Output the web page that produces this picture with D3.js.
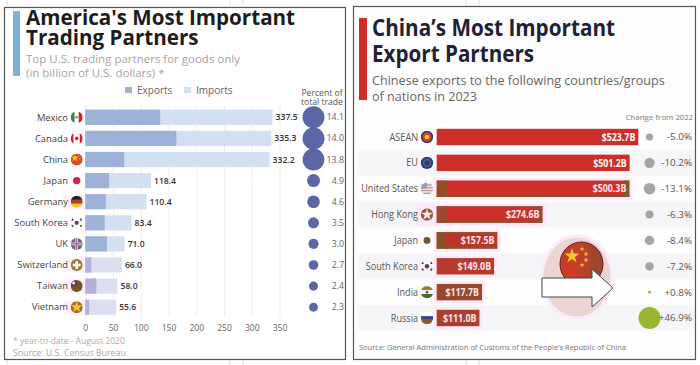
<!DOCTYPE html>
<html>
<head>
<meta charset="utf-8">
<script src="https://cdn.jsdelivr.net/npm/d3@7"></script>
<style>
  html, body { margin: 0; padding: 0; background: #fff; }
  svg { display: block; }
  text { font-family: "Open Sans", sans-serif; }
</style>
</head>
<body>
<div id="chart"></div>
<script>
// left panel data
const usPartners = ["Mexico", "Canada", "China", "Japan", "Germany", "South Korea", "UK", "Switzerland", "Taiwan", "Vietnam"];
const usTotals = [337.5, 335.3, 332.2, 118.4, 110.4, 83.4, 71.0, 66.0, 58.0, 55.6];
const usExports = [135, 164, 70, 43, 37, 35, 39, 11, 20, 7];
const usShares = [14.1, 14.0, 13.8, 4.9, 4.6, 3.5, 3.0, 2.7, 2.4, 2.3];
const usTicks = [0, 50, 100, 150, 200, 250, 300, 350];

// right panel data
const cnPartners = ["ASEAN", "EU", "United States", "Hong Kong", "Japan", "South Korea", "India", "Russia"];
const cnExports = [523.7, 501.2, 500.3, 274.6, 157.5, 149.0, 117.7, 111.0];
const cnChange = [-5.0, -10.2, -13.1, -6.3, -8.4, -7.2, 0.8, 46.9];

// row looks, the scan has colour damage on some rows
const usTinted = ["Switzerland", "Taiwan", "Vietnam"];
const usHalo = ["Germany", "Switzerland", "Taiwan", "Vietnam"];
const cnLook = {
  "United States": { fill: "#cc2f2a", edge: "#7d5a2a", bottom: true, patch: 11, end: 5, halo: true },
  "Hong Kong": { fill: "#cc3029", edge: "#8a5230", top: true, bottom: true, patch: 11, end: 5, halo: true },
  "Japan": { fill: "#bd3329", edge: "#7d5a2a", top: true, bottom: true, patch: 8, halo: true },
  "South Korea": { fill: "#b83a2c", edge: "#a8452c", halo: true },
  "India": { fill: "#98482d", edge: "#8a4c2c", halo: true },
  "Russia": { fill: "#a8412c", edge: "#8e4a2c", halo: true },
};

const svg = d3.select("#chart").append("svg").attr("width", 700).attr("height", 365);
let clipCount = 0;

function flag(g, r, name, panelName) {
  const id = "clip-" + clipCount++;
  g.append("clipPath").attr("id", id).append("circle").attr("r", r);
  const f = g.append("g").attr("clip-path", `url(#${id})`);
  const rect = (x, y, w, h, c) => f.append("rect").attr("x", x * r).attr("y", y * r).attr("width", w * r).attr("height", h * r).attr("fill", c);
  const dot = (x, y, s, c) => f.append("circle").attr("cx", x * r).attr("cy", y * r).attr("r", s * r).attr("fill", c);
  const star = (x, y, s, c) => f.append("path").attr("transform", `translate(${x * r},${y * r})`)
    .attr("d", d3.symbol(d3.symbolStar, s * r * s * r * 3)()).attr("fill", c);
  switch (name) {
    case "Mexico": rect(-1, -1, 0.67, 2, "#2e8b57"); rect(-0.33, -1, 0.66, 2, "#fff"); rect(0.33, -1, 0.67, 2, "#d6202e"); dot(0, 0, 0.2, "#9a7a3a"); break;
    case "Canada": rect(-1, -1, 0.5, 2, "#d6202e"); rect(-0.5, -1, 1, 2, "#fff"); rect(0.5, -1, 0.5, 2, "#d6202e"); dot(0, 0, 0.3, "#d6202e"); break;
    case "China": rect(-1, -1, 2, 2, "#dc4a26"); star(-0.3, -0.25, 0.4, "#f5c92e"); dot(0.3, -0.5, 0.1, "#f5c92e"); dot(0.5, -0.1, 0.1, "#f5c92e"); break;
    case "Japan":
      if (panelName === "cn") dot(0, 0, 0.55, "#6b5a2a");
      else dot(0, 0, 0.62, "#d81e50");
      break;
    case "Germany": rect(-1, -1, 2, 0.7, "#222"); rect(-1, -0.3, 2, 0.65, "#a8402e"); rect(-1, 0.35, 2, 0.65, "#f2c81e"); break;
    case "South Korea": dot(0, 0, 0.35, "#6a3a5a"); dot(-0.75, -0.55, 0.2, "#333"); dot(0.75, -0.55, 0.2, "#333"); dot(-0.75, 0.55, 0.2, "#333"); dot(0.75, 0.55, 0.2, "#333"); break;
    case "UK": rect(-1, -1, 2, 2, "#6a6590"); rect(-1, -0.22, 2, 0.44, "#f0e4ea"); rect(-0.22, -1, 0.44, 2, "#f0e4ea"); rect(-1, -0.08, 2, 0.16, "#a04060"); rect(-0.08, -1, 0.16, 2, "#a04060"); break;
    case "Switzerland": rect(-1, -1, 2, 2, "#a0763a"); rect(-0.65, -0.22, 1.3, 0.44, "#fff"); rect(-0.22, -0.65, 0.44, 1.3, "#fff"); break;
    case "Taiwan": rect(-1, -1, 2, 2, "#74561f"); rect(-1, -1, 1, 1, "#6a2a80"); dot(-0.5, -0.5, 0.25, "#eee"); break;
    case "Vietnam": rect(-1, -1, 2, 2, "#a86a22"); star(0, 0, 0.62, "#f5c92e"); break;
    case "ASEAN": rect(-1, -1, 2, 2, "#2a3a78"); dot(0, 0, 0.75, "#dc3a2a"); dot(0, 0, 0.38, "#f5c92e"); break;
    case "EU": rect(-1, -1, 2, 2, "#2a3a78"); f.append("circle").attr("r", 0.55 * r).attr("fill", "none").attr("stroke", "#55608a").attr("stroke-width", 1.5); break;
    case "United States": rect(-1, -1, 2, 2, "#eee"); [-0.7, -0.25, 0.2, 0.65].forEach(y => rect(-1, y, 2, 0.2, "#c88a90")); rect(-1, -1, 1, 1, "#9a9fba"); break;
    case "Hong Kong": rect(-1, -1, 2, 2, "#9a5a30"); star(0, 0, 0.62, "#fbeaf0"); break;
    case "India": rect(-1, -1, 2, 0.7, "#a07a3a"); rect(-1, -0.3, 2, 0.6, "#fff"); rect(-1, 0.3, 2, 0.7, "#4a6a2a"); dot(0, 0, 0.2, "#2a3a78"); break;
    case "Russia": rect(-1, -1, 2, 0.7, "#fff"); rect(-1, -0.3, 2, 0.6, "#3a3f90"); rect(-1, 0.3, 2, 0.7, "#8a5a30"); break;
  }
}

function drawUS() {
  const panel = svg.append("g");
  panel.append("rect").attr("x", 4.5).attr("y", 7.5).attr("width", 341).attr("height", 352)
    .attr("fill", "#fff").attr("stroke", "#555").attr("stroke-width", 1.2);
  panel.append("rect").attr("x", 13).attr("y", 11).attr("width", 7).attr("height", 65).attr("fill", "#7fb2d9");
  panel.selectAll(".title").data(["America's Most Important", "Trading Partners"]).join("text")
    .attr("x", 26).attr("y", (d, i) => 24.5 + i * 20.5)
    .attr("font-size", 20.6).attr("font-weight", 700).attr("fill", "#1d1d1d").text(d => d);
  panel.selectAll(".sub").data(["Top U.S. trading partners for goods only", "(in billion of U.S. dollars) *"]).join("text")
    .attr("x", 26).attr("y", (d, i) => 63 + i * 13.5)
    .attr("font-size", 11.5).attr("fill", "#ab9fa6").text(d => d);

  // legend
  panel.append("rect").attr("x", 125).attr("y", 87).attr("width", 7).attr("height", 6).attr("fill", "#9db2d6");
  panel.append("text").attr("x", 137).attr("y", 94).attr("font-size", 10).attr("fill", "#666").text("Exports");
  panel.append("rect").attr("x", 184).attr("y", 87).attr("width", 7).attr("height", 6).attr("fill", "#d3e0f1");
  panel.append("text").attr("x", 196).attr("y", 94).attr("font-size", 10).attr("fill", "#666").text("Imports");
  panel.selectAll(".ph").data(["Percent of", "total trade"]).join("text")
    .attr("x", 322).attr("y", (d, i) => 96 + i * 9).attr("text-anchor", "middle")
    .attr("font-size", 8.6).attr("fill", "#555").text(d => d);

  const x = d3.scaleLinear().domain([0, 350]).range([85.3, 279.5]);
  const y = d3.scaleBand().domain(usPartners).range([106.75, 317.75]).paddingInner(0.28).paddingOuter(0.14);
  const r = d3.scaleSqrt().domain([0, 14.1]).range([0, 11]);

  panel.selectAll(".halo").data(usHalo).join("rect")
    .attr("x", 63).attr("width", 24).attr("y", d => y(d) + 1).attr("height", y.bandwidth() - 1).attr("fill", "#fdf0f8");

  const axis = d3.axisBottom(x).tickValues(usTicks).tickSize(-212).tickFormat(d3.format("d"));
  const ax = panel.append("g").attr("transform", "translate(0,317)").call(axis);
  ax.select(".domain").remove();
  ax.selectAll(".tick line").attr("stroke", "#ededed");
  ax.selectAll(".tick text").attr("font-size", 8.6).attr("fill", "#666").attr("y", 8).attr("dy", "0.71em")
    .style("font-family", '"Open Sans", sans-serif');

  const rows = panel.selectAll(".row").data(usPartners).join("g");
  rows.append("rect").attr("x", x(0)).attr("y", d => y(d)).attr("height", y.bandwidth())
    .attr("width", (d, i) => x(usTotals[i]) - x(0)).attr("fill", d => usTinted.includes(d) ? "#dcdff2" : "#d3e0f1");
  rows.append("rect").attr("x", x(0)).attr("y", d => y(d)).attr("height", y.bandwidth())
    .attr("width", (d, i) => x(usExports[i]) - x(0)).attr("fill", d => usTinted.includes(d) ? "#b6aedb" : "#9db2d6");
  rows.append("text").attr("x", 68).attr("y", d => y(d) + y.bandwidth() / 2).attr("dy", "0.35em")
    .attr("text-anchor", "end").attr("font-size", 9.4).attr("fill", "#444").text(d => d);
  rows.append("g").attr("transform", d => `translate(76.7,${y(d) + y.bandwidth() / 2})`).each(function (d) { flag(d3.select(this), 6, d, "us"); });
  rows.append("text").attr("x", (d, i) => x(usTotals[i]) + 3).attr("y", d => y(d) + y.bandwidth() / 2).attr("dy", "0.35em")
    .attr("font-size", 8.6).attr("font-weight", 600).attr("fill", "#333").text((d, i) => usTotals[i].toFixed(1));
  rows.append("circle").attr("cx", 313.5).attr("cy", d => y(d) + y.bandwidth() / 2)
    .attr("r", (d, i) => r(usShares[i])).attr("fill", "#5b66a6");
  rows.append("text").attr("x", 344).attr("y", d => y(d) + y.bandwidth() / 2).attr("dy", "0.35em")
    .attr("text-anchor", "end").attr("font-size", 8.8).attr("fill", "#666").text((d, i) => usShares[i].toFixed(1));

  panel.append("text").attr("x", 13).attr("y", 343.5).attr("font-size", 8.5).attr("fill", "#b5a8ae").text("* year-to-date - August 2020");
  panel.append("text").attr("x", 13).attr("y", 355.5).attr("font-size", 8.8).attr("fill", "#a8a8a8").text("Source: U.S. Census Bureau");
}

function drawChina() {
  const panel = svg.append("g");
  panel.append("rect").attr("x", 353.5).attr("y", 6.5).attr("width", 342).attr("height", 353)
    .attr("fill", "#fdfdfd").attr("stroke", "#555").attr("stroke-width", 1.2);
  panel.append("rect").attr("x", 359).attr("y", 18).attr("width", 8).attr("height", 82).attr("fill", "#cf2c27");
  const titleLens = [243, 162];
  panel.selectAll(".title").data(["China\u2019s Most Important", "Export Partners"]).join("text")
    .attr("x", 372).attr("y", (d, i) => 35.5 + i * 26)
    .attr("font-size", 23.5).attr("font-weight", 700).attr("fill", "#1e2233")
    .attr("textLength", (d, i) => titleLens[i]).attr("lengthAdjust", "spacingAndGlyphs").text(d => d);
  panel.selectAll(".sub").data(["Chinese exports to the following countries/groups", "of nations in 2023"]).join("text")
    .attr("x", 372).attr("y", (d, i) => 85 + i * 16)
    .attr("font-size", 12.6).attr("fill", "#666").text(d => d);
  panel.append("text").attr("x", 693).attr("y", 120).attr("text-anchor", "end")
    .attr("font-size", 7.7).attr("font-weight", 600).attr("fill", "#999").text("Change from 2022");

  const x = d3.scaleLinear().domain([0, 523.7]).range([436.7, 638.3]);
  const y = d3.scalePoint().domain(cnPartners).range([137, 318]);
  const r = d3.scaleSqrt().domain([0, 46.9]).range([0, 11]);
  const barH = 16.4;

  const rows = panel.selectAll(".row").data(cnPartners).join("g");
  rows.filter((d, i) => i % 2 === 1).append("rect").attr("x", 358).attr("width", 336)
    .attr("y", d => y(d) - 12.9).attr("height", 25.8).attr("fill", "#f6f6f8");
  rows.filter(d => cnLook[d]).append("rect")
    .attr("x", d => x(0) - (d === "Hong Kong" ? 20 : 3)).attr("y", d => y(d) - barH / 2 - 2.5)
    .attr("width", d => x(cnExports[cnPartners.indexOf(d)]) - x(0) + (d === "Hong Kong" ? 26 : 6)).attr("height", barH + 5.5)
    .attr("fill", "#ffe9fb");
  rows.append("rect").attr("x", x(0)).attr("y", d => y(d) - barH / 2).attr("height", barH)
    .attr("width", (d, i) => x(cnExports[i]) - x(0)).attr("fill", d => cnLook[d] ? cnLook[d].fill : "#cc2f2a");

  // brown edges and patches on the damaged bars
  rows.each(function (d, i) {
    const look = cnLook[d];
    if (!look) return;
    const g = d3.select(this), w = x(cnExports[i]) - x(0);
    const patch = (px, py, pw, ph) => g.append("rect").attr("x", px).attr("y", py).attr("width", pw).attr("height", ph).attr("fill", look.edge);
    if (look.top) patch(x(0), y(d) - barH / 2, w, 1.6);
    if (look.bottom) patch(x(0), y(d) + barH / 2 - 2, w, 2);
    if (look.patch) patch(x(0), y(d) - barH / 2, look.patch, barH).attr("opacity", 0.75);
    if (look.end) patch(x(0) + w - look.end, y(d) - barH / 2, look.end, barH);
  });

  // labels are condensed in the reference, so squeeze a larger size to its width
  rows.append("text").attr("x", (d, i) => x(cnExports[i]) - 3).attr("y", d => y(d)).attr("dy", "0.35em")
    .attr("text-anchor", "end").attr("font-size", 10.6).attr("font-weight", 700).attr("fill", d => cnLook[d] ? "#ffe6ee" : "#fff")
    .attr("textLength", 33.5).attr("lengthAdjust", "spacingAndGlyphs")
    .text((d, i) => `$${cnExports[i].toFixed(1)}B`);
  rows.append("text").attr("x", 418).attr("y", d => y(d)).attr("dy", "0.35em")
    .attr("text-anchor", "end").attr("font-size", 10).attr("fill", "#555").text(d => d)
    .each(function () { d3.select(this).attr("textLength", this.getComputedTextLength() * 0.91).attr("lengthAdjust", "spacingAndGlyphs"); });
  rows.append("g").attr("transform", d => `translate(427,${y(d)})`).each(function (d) { flag(d3.select(this), 6.2, d, "cn"); });
  rows.append("circle").attr("cx", 649.5).attr("cy", d => y(d))
    .attr("r", (d, i) => r(Math.abs(cnChange[i]))).attr("fill", (d, i) => cnChange[i] < 0 ? "#a5a5a5" : "#9ab52e");
  rows.append("text").attr("x", 692).attr("y", d => y(d)).attr("dy", "0.35em").attr("text-anchor", "end")
    .attr("font-size", 9.8).attr("fill", "#555")
    .text((d, i) => (cnChange[i] > 0 ? "+" : "") + cnChange[i].toFixed(1) + "%");

  // flag and arrow badge
  const grad = svg.append("defs").append("linearGradient").attr("id", "badge");
  grad.append("stop").attr("offset", "35%").attr("stop-color", "#cc3a2a");
  grad.append("stop").attr("offset", "90%").attr("stop-color", "#98482c");
  panel.append("ellipse").attr("cx", 577).attr("cy", 277).attr("rx", 35).attr("ry", 41)
    .attr("fill", "#ecd6d2").attr("stroke", "#fdeafa").attr("stroke-width", 3);
  panel.append("ellipse").attr("cx", 581.5).attr("cy", 264).attr("rx", 21.5).attr("ry", 22).attr("fill", "url(#badge)").attr("stroke", "#5a1c22").attr("stroke-width", 1);
  const star = d3.symbol(d3.symbolStar);
  panel.append("path").attr("transform", "translate(572,256)").attr("d", star.size(70)()).attr("fill", "#f5c92e");
  [[582, 249], [586, 254], [586, 260], [582, 265]].forEach(p =>
    panel.append("path").attr("transform", `translate(${p[0]},${p[1]})`).attr("d", star.size(8)()).attr("fill", "#f5c92e"));
  panel.append("path").attr("d", d3.line()([[542, 278], [592, 278], [592, 269], [613, 288], [592, 307], [592, 297], [542, 297]]) + "Z")
    .attr("fill", "#fff").attr("stroke", "#444").attr("stroke-width", 1);

  panel.append("text").attr("x", 359).attr("y", 350).attr("font-size", 7.5).attr("fill", "#777")
    .text("Source: General Administration of Customs of the People\u2019s Republic of China");
}

// stray lines of the page behind the two crops
[7, 230, 243, 466, 479].forEach(px => {
  svg.append("line").attr("x1", px).attr("x2", px).attr("y1", 0).attr("y2", 6).attr("stroke", "#ddd");
  svg.append("line").attr("x1", px).attr("x2", px).attr("y1", 360).attr("y2", 365).attr("stroke", "#ddd");
});

drawUS();
drawChina();
</script>
</body>
</html>
